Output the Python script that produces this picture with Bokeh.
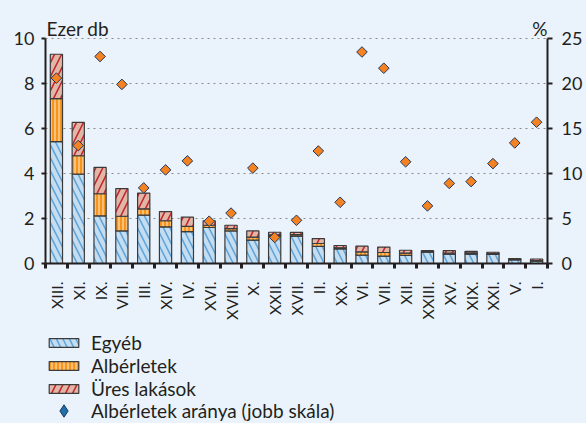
import math
from bokeh.plotting import figure
from bokeh.layouts import column
from bokeh.models import (Range1d, LinearAxis, FixedTicker, Legend, LegendItem,
                          Label, ColumnDataSource)
from bokeh.embed import file_html
from bokeh.resources import INLINE

categories = ["XIII.", "XI.", "IX.", "VIII.", "III.", "XIV.", "IV.", "XVI.", "XVIII.",
              "X.", "XXII.", "XVII.", "II.", "XX.", "VI.", "VII.", "XII.", "XXIII.",
              "XV.", "XIX.", "XXI.", "V.", "I."]
egyeb = [5.42, 3.97, 2.12, 1.45, 2.15, 1.63, 1.42, 1.60, 1.45, 1.04, 1.22, 1.22,
         0.76, 0.65, 0.37, 0.33, 0.36, 0.50, 0.42, 0.42, 0.40, 0.16, 0.10]
alberletek = [1.91, 0.82, 0.98, 0.65, 0.28, 0.27, 0.23, 0.10, 0.10, 0.13, 0.05, 0.06,
              0.13, 0.05, 0.15, 0.16, 0.10, 0.03, 0.04, 0.05, 0.04, 0.02, 0.03]
ures = [1.97, 1.48, 1.17, 1.23, 0.70, 0.41, 0.41, 0.20, 0.15, 0.28, 0.12, 0.10,
        0.22, 0.10, 0.25, 0.24, 0.13, 0.04, 0.11, 0.07, 0.06, 0.04, 0.07]
arany = [20.6, 13.1, 23.0, 19.9, 8.4, 10.4, 11.4, 4.7, 5.6, 10.6, 2.9, 4.8,
         12.5, 6.8, 23.5, 21.7, 11.3, 6.4, 8.9, 9.1, 11.1, 13.4, 15.7]
left_ticks = [0, 2, 4, 6, 8, 10]
right_ticks = [0, 5, 10, 15, 20, 25]
legend_labels = ["Egyéb", "Albérletek", "Üres lakások", "Albérletek aránya (jobb skála)"]

BG = "#EAF3FB"
FONT = "Lato"
TXT = "#231F20"
AX = "#231F20"

n = len(categories)
xs = [i + 0.5 for i in range(n)]
a_top = [e + a for e, a in zip(egyeb, alberletek)]
u_top = [t + u for t, u in zip(a_top, ures)]

src = ColumnDataSource(dict(x=xs, e0=[0] * n, e1=egyeb, a1=a_top, u1=u_top, arany=arany))

E_STYLE = dict(fill_color="#C5DDF1", line_color="#3A3A3A", line_width=1.2,
               hatch_pattern="left_diagonal_line", hatch_color="#5FA5DA",
               hatch_scale=13, hatch_weight=1.6)
A_STYLE = dict(fill_color="#F7941E", line_color="#3A3A3A", line_width=1.2,
               hatch_pattern="vertical_line", hatch_color="#FFE0B0",
               hatch_scale=4, hatch_weight=1.2)
U_STYLE = dict(fill_color="#E2B6A7", line_color="#3A3A3A", line_width=1.2,
               hatch_pattern="right_diagonal_line", hatch_color="#C1272D",
               hatch_scale=14, hatch_weight=1.6)

# ---------------- main chart ----------------
FRAME_TOP_PAD = 30  # px above the top gridline, room for the unit labels
ppu = 225 / left_ticks[-1]
y_top = left_ticks[-1] + FRAME_TOP_PAD / ppu
r_top = right_ticks[-1] * y_top / left_ticks[-1]

p = figure(width=586, height=330, output_backend="svg", toolbar_location=None,
           x_range=Range1d(0, n), y_range=Range1d(0, y_top),
           min_border_left=45, min_border_right=39, min_border_top=8,
           min_border_bottom=67, background_fill_color=BG, border_fill_color=BG,
           outline_line_color=None)
p.extra_y_ranges = {"pct": Range1d(0, r_top)}

bar_w = 0.56
p.vbar(x="x", bottom="e0", top="e1", width=bar_w, source=src, **E_STYLE)
p.vbar(x="x", bottom="e1", top="a1", width=bar_w, source=src, **A_STYLE)
p.vbar(x="x", bottom="a1", top="u1", width=bar_w, source=src, **U_STYLE)
p.scatter(x="x", y="arany", source=src, y_range_name="pct", marker="square",
          angle=math.pi / 4, size=7.5, fill_color="#F58220",
          line_color="#1F3864", line_width=1)

xa = p.xaxis[0]
xa.ticker = FixedTicker(ticks=xs, minor_ticks=list(range(n + 1)))
xa.major_label_overrides = {x: c for x, c in zip(xs, categories)}
xa.major_label_orientation = math.pi / 2
xa.major_tick_out = 0
xa.major_tick_in = 0
xa.minor_tick_out = 5
xa.minor_tick_in = 0
xa.minor_tick_line_width = 3
xa.minor_tick_line_color = AX
xa.axis_line_width = 2
xa.axis_line_color = AX
xa.major_label_standoff = 13
xa.major_label_text_font = FONT
xa.major_label_text_font_size = "16px"
xa.major_label_text_color = TXT

ya = p.yaxis[0]
ya.ticker = FixedTicker(ticks=left_ticks)
ya.bounds = (left_ticks[0], left_ticks[-1])
ya.major_tick_out = 4
ya.major_tick_in = 0
ya.minor_tick_out = 0
ya.minor_tick_in = 0
ya.major_tick_line_width = 2
ya.major_tick_line_color = AX
ya.axis_line_width = 2
ya.axis_line_color = AX
ya.major_label_standoff = 7
ya.major_label_text_font = FONT
ya.major_label_text_font_size = "18px"
ya.major_label_text_color = TXT

ra = LinearAxis(y_range_name="pct", ticker=FixedTicker(ticks=right_ticks),
                bounds=(right_ticks[0], right_ticks[-1]))
ra.major_tick_out = 5
ra.major_tick_in = 0
ra.minor_tick_out = 0
ra.minor_tick_in = 0
ra.major_tick_line_width = 2
ra.major_tick_line_color = AX
ra.axis_line_width = 2
ra.axis_line_color = AX
ra.major_label_standoff = 9
ra.major_label_text_font = FONT
ra.major_label_text_font_size = "18px"
ra.major_label_text_color = TXT
p.add_layout(ra, "right")

p.xgrid.visible = False
p.ygrid.ticker = FixedTicker(ticks=left_ticks[1:])
p.ygrid.grid_line_color = "#8A8A8A"
p.ygrid.grid_line_dash = "2 4"
p.ygrid.grid_line_width = 1.2

p.add_layout(Label(x=1, y=235, x_units="screen", y_units="screen", text="Ezer db",
                   text_font=FONT, text_font_size="19px", text_color=TXT,
                   text_baseline="alphabetic"))
p.add_layout(Label(x=502, y=235, x_units="screen", y_units="screen", text="%",
                   text_font=FONT, text_font_size="19px", text_color=TXT,
                   text_align="right", text_baseline="alphabetic"))

# ---------------- legend strip ----------------
# same glyph styles; the strip's ranges keep the glyphs themselves out of view
q = figure(width=586, height=93, output_backend="svg", toolbar_location=None,
           x_axis_type=None, y_axis_type=None, min_border=0,
           x_range=Range1d(1000, 1001), y_range=Range1d(1000, 1001),
           background_fill_color=BG, border_fill_color=BG, outline_line_color=None)
q.grid.visible = False
l_e = q.vbar(x="x", bottom="e0", top="e1", width=bar_w, source=src, **E_STYLE)
l_a = q.vbar(x="x", bottom="e1", top="a1", width=bar_w, source=src, **A_STYLE)
l_u = q.vbar(x="x", bottom="a1", top="u1", width=bar_w, source=src, **U_STYLE)
l_d = q.scatter(x="x", y="arany", source=src, marker="diamond",
                size=12, fill_color="#1F6FA8", line_color="#1F3864", line_width=1)

LEG_STYLE = dict(orientation="vertical", glyph_width=37, spacing=-1,
                 label_standoff=9, padding=0, margin=0,
                 border_line_color=None, background_fill_alpha=0,
                 label_text_font=FONT, label_text_font_size="19px",
                 label_text_color=TXT, label_text_baseline="middle")
legend_bars = Legend(items=[LegendItem(label=t, renderers=[r])
                            for t, r in zip(legend_labels[:3], [l_e, l_a, l_u])],
                     location=(0, 23), glyph_height=11, label_height=17, **LEG_STYLE)
legend_pts = Legend(items=[LegendItem(label=legend_labels[3], renderers=[l_d])],
                    location=(0, -3), glyph_height=31, label_height=17, **LEG_STYLE)
q.add_layout(legend_bars, "center")
q.add_layout(legend_pts, "center")

layout = column(p, q, spacing=0)
html = file_html(layout, INLINE)
html = html.replace("<head>", "<head><style>html,body{background:%s;}</style>" % BG, 1)
open("out.html", "w").write(html)
